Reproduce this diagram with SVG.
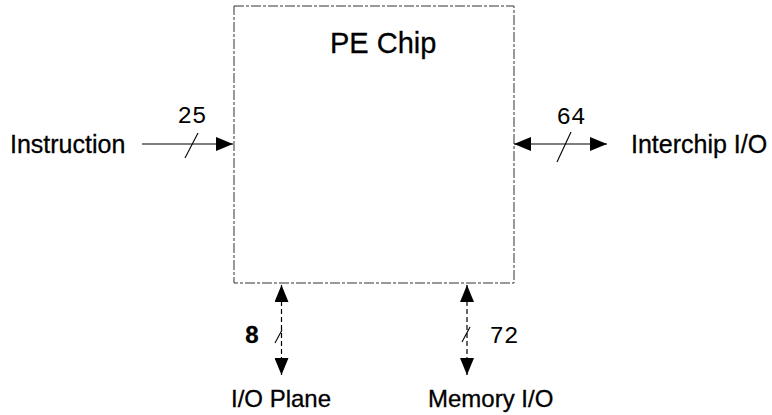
<svg xmlns="http://www.w3.org/2000/svg" width="772" height="415" viewBox="0 0 772 415">
<style>
.lbl{font-family:"Liberation Sans",Arial,sans-serif;font-size:25px;fill:#000;stroke:#000;stroke-width:0.3}
.num{font-family:"Liberation Mono","Courier New",monospace;font-size:24px;fill:#000}
.box{fill:none;stroke:#333;stroke-width:1;stroke-dasharray:10 2 3 2}
.ln{stroke:#000;stroke-width:1.2;fill:none}
.dl{stroke:#000;stroke-width:1.2;fill:none;stroke-dasharray:5 3}
.sl{stroke:#000;stroke-width:1.1}
</style>
<defs>
<marker id="ah" viewBox="0 0 17 14" refX="17" refY="7" markerWidth="17" markerHeight="14" markerUnits="userSpaceOnUse" orient="auto-start-reverse">
<path d="M0,0 L17,7 L0,14 Z" fill="#000"/>
</marker>
</defs>
<g id="pe-chip">
<rect class="box" x="234" y="6" width="280" height="277"/>
<text class="lbl" x="330" y="53" style="font-size:29px">PE Chip</text>
</g>
<g id="instruction">
<text class="lbl" x="10" y="153">Instruction</text>
</g>
<g id="interchip">
<text class="lbl" x="631" y="153">Interchip I/O</text>
</g>
<g id="io-plane">
<text class="lbl" x="281" y="407" text-anchor="middle" style="font-size:24px">I/O Plane</text>
</g>
<g id="memory-io">
<text class="lbl" x="428" y="407" style="font-size:24px">Memory I/O</text>
</g>
<g id="connectors">
<line class="ln" x1="142" y1="144" x2="233" y2="144" marker-end="url(#ah)"/>
<line class="sl" x1="185" y1="158" x2="198" y2="133"/>
<text class="num" x="192" y="123" text-anchor="middle">25</text>
<line class="ln" x1="514" y1="144" x2="607" y2="144" marker-start="url(#ah)" marker-end="url(#ah)"/>
<line class="sl" x1="557" y1="162" x2="571" y2="132"/>
<text class="num" x="571" y="124" text-anchor="middle">64</text>
<line class="dl" x1="281.5" y1="285" x2="281.5" y2="375" marker-start="url(#ah)" marker-end="url(#ah)"/>
<line class="sl" x1="275" y1="343" x2="282" y2="330"/>
<text class="lbl" x="252" y="343" text-anchor="middle" style="font-size:24px;font-weight:bold">8</text>
<line class="dl" x1="467" y1="285" x2="467" y2="375" marker-start="url(#ah)" marker-end="url(#ah)"/>
<line class="sl" x1="462" y1="342" x2="470" y2="327"/>
<text class="num" x="504" y="343" text-anchor="middle">72</text>
</g>
</svg>
